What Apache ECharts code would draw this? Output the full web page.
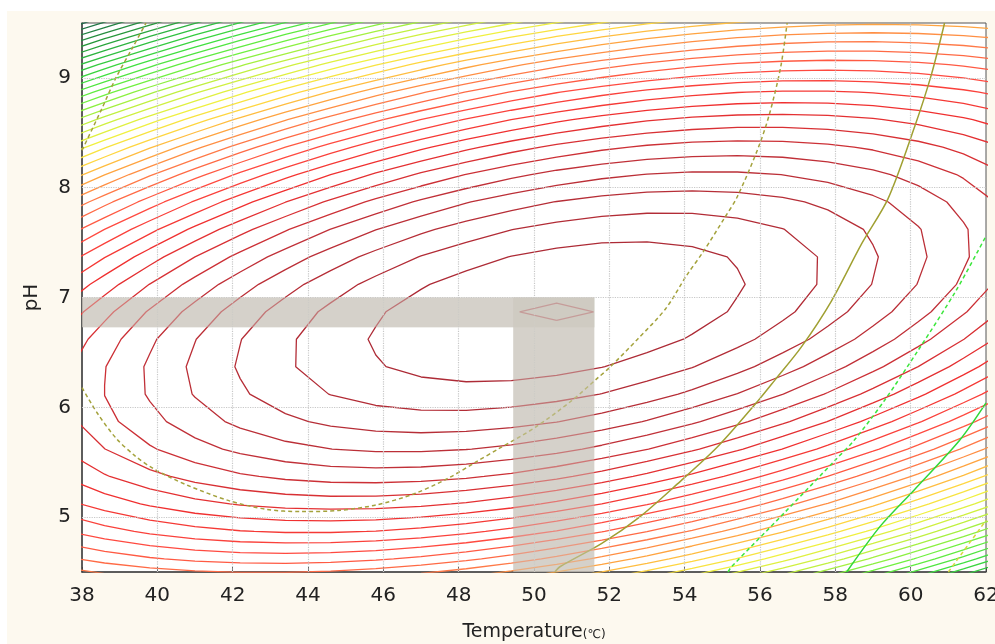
<!DOCTYPE html>
<html>
<head>
<meta charset="utf-8">
<title>Temperature / pH contour</title>
<script src="https://cdn.jsdelivr.net/npm/echarts@6/dist/echarts.min.js"></script>
<style>
  html, body { margin: 0; padding: 0; background: #fff; }
  #chart { width: 995px; height: 644px; }
</style>
</head>
<body>
<div id="chart"></div>
<script>
// axis ticks
const tempTicks = [38, 40, 42, 44, 46, 48, 50, 52, 54, 56, 58, 60, 62];
const phTicks = [5, 6, 7, 8, 9];

// fitted response surface, canonical form:
// Q = a*dT^2 + 2b*dT*dpH + c*dpH^2  (drop below the optimum)
const surfaceCenter = [50.6, 6.87];
const surfaceCoef = [0.051, -0.167, 3.03];

// contour levels (drop below optimum)
const contourLevels = [
  0.06, 1.06, 2.06, 3.06, 4.06, 5.06, 6.06, 7.06, 8.06, 9.06,
  10.06, 11.06, 12.06, 13.06, 14.06, 15.06, 16.06, 17.06, 18.06, 19.06,
  20.06, 21.06, 22.06, 23.06, 24.06, 25.06, 26.06, 27.06, 28.06, 29.06,
  30.06, 31.06, 32.06, 33.06, 34.06, 35.06, 36.06, 37.06, 38.06, 39.06,
  40.06, 41.06, 42.06
];

// optimum region (gray bands)
const optTempRange = [49.45, 51.6];
const optPhRange = [6.73, 7.0];

// overlaid contours of the second response
const secondA = [[38.0, 6.18], [38.4, 5.95], [38.9, 5.72], [39.4, 5.56], [39.9, 5.44], [40.8, 5.29],
  [41.9, 5.15], [42.9, 5.07], [43.8, 5.05], [44.8, 5.06], [45.8, 5.11], [46.8, 5.21], [47.7, 5.35],
  [48.45, 5.5], [49.1, 5.63], [50.0, 5.81], [51.0, 6.06], [51.7, 6.27], [52.0, 6.36], [52.75, 6.62],
  [53.5, 6.9], [54.05, 7.2], [54.5, 7.42], [55.05, 7.72], [55.4, 7.92], [55.95, 8.36], [56.25, 8.67],
  [56.55, 9.1], [56.72, 9.5]];
const secondA2 = [[38.0, 8.34], [38.5, 8.7], [38.9, 9.0], [39.35, 9.28], [39.7, 9.5]];
const secondB = [[50.55, 4.5], [50.7, 4.55], [51.8, 4.76], [52.8, 5.0], [53.8, 5.3], [54.9, 5.65],
  [55.95, 6.06], [56.4, 6.25], [57.1, 6.55], [57.9, 6.97], [58.7, 7.49], [59.4, 7.9], [60.1, 8.55],
  [60.55, 9.03], [60.9, 9.5]];
const secondC = [[55.15, 4.5], [55.25, 4.55], [56.65, 5.04], [58.0, 5.52], [58.5, 5.7], [59.3, 6.06],
  [60.2, 6.52], [61.2, 7.06], [62.0, 7.56]];
const secondD = [[58.3, 4.5], [59.2, 4.92], [60.1, 5.25], [61.3, 5.7], [62.0, 6.04]];
const secondE = [[61.0, 4.5], [62.0, 4.97]];

// palette by level index
const paletteSteps = [0, 5, 9, 12, 15, 17, 19, 21, 24, 27, 30, 33, 36, 40];
const paletteColors = ['#a82a35', '#c03038', '#f03030', '#ff4a40', '#ff7a48', '#ffa440', '#ffd640',
  '#f0f040', '#c0f040', '#70f040', '#40e040', '#30c040', '#28983c', '#1e6a48'];

// sampling grid for the surface
const gridTemp = { start: 37.4, step: 1.2, count: 22 };
const gridPh = { start: 4.37, step: 0.25, count: 22 };

function surfaceQ(t, ph) {
  const dt = t - surfaceCenter[0];
  const dp = ph - surfaceCenter[1];
  const [a, b, c] = surfaceCoef;
  return a * dt * dt + 2 * b * dt * dp + c * dp * dp;
}

function hex(c) {
  return [1, 3, 5].map(i => parseInt(c.slice(i, i + 2), 16));
}
function levelColor(k) {
  if (k >= paletteSteps[paletteSteps.length - 1]) return paletteColors[paletteColors.length - 1];
  let i = 0;
  while (paletteSteps[i + 1] <= k) i++;
  const f = (k - paletteSteps[i]) / (paletteSteps[i + 1] - paletteSteps[i]);
  const c0 = hex(paletteColors[i]), c1 = hex(paletteColors[i + 1]);
  const c = c0.map((v, n) => Math.round(v + (c1[n] - v) * f));
  return 'rgb(' + c.join(',') + ')';
}

const gx = i => gridTemp.start + i * gridTemp.step;
const gy = j => gridPh.start + j * gridPh.step;
const Z = [];
for (let j = 0; j < gridPh.count; j++) {
  Z[j] = [];
  for (let i = 0; i < gridTemp.count; i++) Z[j][i] = surfaceQ(gx(i), gy(j));
}

// marching squares, returns polylines in data coords
function contour(level) {
  const pts = {};
  const adj = {};
  const point = (key, x0, y0, z0, x1, y1, z1) => {
    if (!pts[key]) {
      const t = (level - z0) / (z1 - z0);
      pts[key] = [x0 + t * (x1 - x0), y0 + t * (y1 - y0)];
    }
    return key;
  };
  const link = (a, b) => {
    (adj[a] = adj[a] || []).push(b);
    (adj[b] = adj[b] || []).push(a);
  };
  for (let j = 0; j < gridPh.count - 1; j++) {
    for (let i = 0; i < gridTemp.count - 1; i++) {
      const z00 = Z[j][i], z10 = Z[j][i + 1], z01 = Z[j + 1][i], z11 = Z[j + 1][i + 1];
      const s00 = z00 < level, s10 = z10 < level, s01 = z01 < level, s11 = z11 < level;
      let bottom, right, top, left;
      const hits = [];
      if (s00 !== s10) hits.push(bottom = point('h' + i + '_' + j, gx(i), gy(j), z00, gx(i + 1), gy(j), z10));
      if (s10 !== s11) hits.push(right = point('v' + (i + 1) + '_' + j, gx(i + 1), gy(j), z10, gx(i + 1), gy(j + 1), z11));
      if (s01 !== s11) hits.push(top = point('h' + i + '_' + (j + 1), gx(i), gy(j + 1), z01, gx(i + 1), gy(j + 1), z11));
      if (s00 !== s01) hits.push(left = point('v' + i + '_' + j, gx(i), gy(j), z00, gx(i), gy(j + 1), z01));
      if (hits.length === 2) {
        link(hits[0], hits[1]);
      } else if (hits.length === 4) {
        const sc = (z00 + z10 + z01 + z11) / 4 < level;
        if (sc === s00) { link(bottom, right); link(top, left); }
        else { link(bottom, left); link(top, right); }
      }
    }
  }
  const used = new Set();
  const lines = [];
  const trace = start => {
    const path = [pts[start]];
    used.add(start);
    let cur = start;
    for (;;) {
      const nxt = adj[cur].find(k => !used.has(k));
      if (!nxt) break;
      used.add(nxt);
      path.push(pts[nxt]);
      cur = nxt;
    }
    return path;
  };
  const keys = Object.keys(adj);
  keys.filter(k => adj[k].length === 1).forEach(k => { if (!used.has(k)) lines.push(trace(k)); });
  keys.forEach(k => {
    if (!used.has(k)) {
      const p = trace(k);
      p.push(p[0]);
      lines.push(p);
    }
  });
  return lines;
}

const series = [];

// dotted grid lines
series.push({
  type: 'line',
  data: [],
  z: 1,
  markLine: {
    silent: true,
    symbol: 'none',
    label: { show: false },
    lineStyle: { type: 'dotted', color: '#c8c8c8', width: 1.2 },
    data: tempTicks.slice(1, -1).map(v => ({ xAxis: v })).concat(phTicks.map(v => ({ yAxis: v })))
  }
});

// optimum bands, painted under the lines
const bandRects = [
  [tempTicks[0], optPhRange[0], optTempRange[1], optPhRange[1]],
  [optTempRange[0], 4.5, optTempRange[1], optPhRange[1]]
];
const bandSeries = (z, fill) => ({
  type: 'custom',
  z: z,
  silent: true,
  data: bandRects,
  renderItem(params, api) {
    const p0 = api.coord([api.value(0), api.value(1)]);
    const p1 = api.coord([api.value(2), api.value(3)]);
    return {
      type: 'rect',
      shape: { x: p0[0], y: p1[1], width: p1[0] - p0[0], height: p0[1] - p1[1] },
      style: { fill: fill }
    };
  }
});
series.push(bandSeries(1.5, 'rgba(190,185,176,0.62)'));

contourLevels.forEach((lv, k) => {
  contour(lv).forEach(path => {
    series.push({
      type: 'line',
      data: path,
      showSymbol: false,
      symbol: 'none',
      silent: true,
      z: 2,
      lineStyle: { color: levelColor(k), width: 1.3 }
    });
  });
});

const overlay = (data, color, dashed) => ({
  type: 'line',
  data: data,
  showSymbol: false,
  symbol: 'none',
  silent: true,
  smooth: 0.3,
  z: 3,
  lineStyle: { color: color, width: 1.5, type: dashed ? [4, 3] : 'solid' }
});
series.push(overlay(secondA, '#a4a23c', true));
series.push(overlay(secondA2, '#a4a23c', true));
series.push(overlay(secondB, '#a0a032', false));
series.push(overlay(secondC, '#3ce63c', true));
series.push(overlay(secondD, '#30d838', false));
series.push(overlay(secondE, '#d8d840', true));

// light veil over the lines inside the bands
series.push(bandSeries(10, 'rgba(210,206,198,0.45)'));

const chart = echarts.init(document.getElementById('chart'));
chart.setOption({
  animation: false,
  textStyle: { fontFamily: 'DejaVu Sans' },
  graphic: [{
    type: 'rect',
    z: -10,
    shape: { x: 7, y: 11, width: 988, height: 633 },
    style: { fill: '#fdf9ef' }
  }],
  grid: {
    left: 82, right: 9, top: 23, bottom: 72,
    outerBoundsMode: 'none',
    containLabel: false,
    show: true,
    backgroundColor: '#ffffff',
    borderColor: '#555',
    borderWidth: 1
  },
  xAxis: {
    type: 'value',
    min: 38,
    max: 62,
    interval: 2,
    name: '{t|Temperature}{u|(℃)}',
    nameLocation: 'middle',
    nameGap: 51,
    nameTextStyle: {
      rich: {
        t: { fontSize: 19, color: '#222', fontFamily: 'DejaVu Sans' },
        u: { fontSize: 12, color: '#222', fontFamily: 'DejaVu Sans', padding: [4, 0, 0, 0] }
      }
    },
    axisLine: { lineStyle: { color: '#444', width: 1.5 } },
    axisTick: { inside: true, length: 5, lineStyle: { color: '#444' } },
    splitLine: { show: false },
    axisLabel: { fontSize: 20, color: '#222', margin: 14 }
  },
  yAxis: {
    type: 'value',
    min: 4.5,
    max: 9.5,
    interval: 0.5,
    name: 'pH',
    nameLocation: 'middle',
    nameGap: 40,
    nameTextStyle: { fontSize: 20, color: '#222' },
    axisLine: { show: true, lineStyle: { color: '#444', width: 1.5 } },
    axisTick: { show: false },
    splitLine: { show: false },
    axisLabel: {
      fontSize: 20,
      color: '#222',
      margin: 11,
      formatter: v => (phTicks.indexOf(v) >= 0 ? String(v) : '')
    }
  },
  series: series
});
</script>
</body>
</html>
